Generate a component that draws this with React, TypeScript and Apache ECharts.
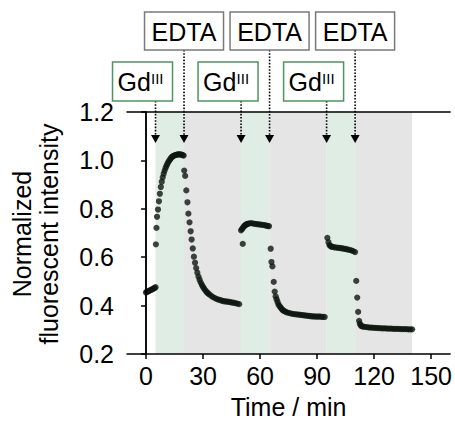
import React, { useEffect, useRef } from "react";
import * as echarts from "echarts";

// Treatment times (min)
const gdTimes = [5, 50, 95];
const edtaTimes = [20, 65, 110];
const endTime = 140;
const xTickValues = [0, 30, 60, 90, 120, 150];

// Baseline before first Gd(III)
const baseT = [0, 0.5, 1, 1.5, 2, 2.5, 3, 3.5, 4, 4.5, 5];
const baseV = [0.454, 0.457, 0.458, 0.461, 0.462, 0.465, 0.466, 0.468, 0.471, 0.472, 0.476];

// 1st Gd(III) addition
const gd1T = [5.2, 5.5, 5.8, 6.3, 6.8, 7.3, 7.8, 8.3, 8.8, 9.3, 9.8, 10.3, 10.8, 11.3, 11.8, 12.3, 12.8, 13.3, 13.8, 14.3, 14.8, 15.3, 15.8, 16.3, 16.8, 17.3, 17.8, 18.3, 18.8, 19.3, 19.8];
const gd1V = [0.653, 0.721, 0.767, 0.797, 0.831, 0.862, 0.89, 0.912, 0.93, 0.945, 0.958, 0.969, 0.978, 0.986, 0.994, 1.0, 1.006, 1.011, 1.015, 1.018, 1.02, 1.022, 1.023, 1.024, 1.025, 1.025, 1.025, 1.024, 1.024, 1.022, 1.02];

// 1st EDTA addition
const edta1T = [20.1, 20.6, 21.2, 21.8, 22.3, 22.9, 23.5, 24.0, 24.6, 25.2, 25.8, 26.4, 27.0, 27.6, 28.2, 28.8, 29.4, 30.0, 30.6, 31.2, 31.8, 32.4, 33, 34, 35, 36, 37, 38, 39, 40, 41, 42, 43, 44, 45, 46, 47, 48, 49];
const edta1V = [0.958, 0.936, 0.876, 0.827, 0.78, 0.744, 0.707, 0.673, 0.636, 0.602, 0.577, 0.555, 0.536, 0.52, 0.507, 0.495, 0.485, 0.477, 0.47, 0.463, 0.457, 0.452, 0.448, 0.442, 0.436, 0.432, 0.428, 0.425, 0.423, 0.42, 0.418, 0.417, 0.416, 0.415, 0.413, 0.412, 0.41, 0.408, 0.406];

// 2nd Gd(III) addition
const gd2T = [50.9, 50.0, 50.5, 51, 51.5, 52, 52.5, 53, 53.5, 54, 55, 56, 57, 58, 59, 60, 61, 62, 63, 64, 64.7];
const gd2V = [0.655, 0.711, 0.716, 0.722, 0.727, 0.731, 0.734, 0.736, 0.738, 0.739, 0.741, 0.74, 0.738, 0.737, 0.736, 0.735, 0.734, 0.733, 0.731, 0.729, 0.728];

// 2nd EDTA addition
const edta2T = [65.6, 66.0, 66.5, 67.2, 67.7, 68.2, 68.7, 69.2, 69.7, 70.2, 70.8, 71.4, 72, 72.6, 73.3, 74, 75, 76, 77, 78, 79, 80, 81, 82, 83, 84, 85, 86, 87, 88, 89, 90, 91, 92, 93, 94];
const edta2V = [0.635, 0.58, 0.562, 0.498, 0.458, 0.438, 0.426, 0.415, 0.405, 0.398, 0.392, 0.386, 0.381, 0.378, 0.375, 0.372, 0.37, 0.368, 0.366, 0.365, 0.364, 0.363, 0.362, 0.361, 0.36, 0.359, 0.358, 0.357, 0.356, 0.355, 0.355, 0.354, 0.355, 0.354, 0.353, 0.353];

// 3rd Gd(III) addition
const gd3T = [95.4, 96, 96.5, 97, 97.5, 98, 99, 100, 101, 102, 103, 104, 105, 106, 107, 108, 109, 110];
const gd3V = [0.68, 0.662, 0.65, 0.646, 0.644, 0.643, 0.641, 0.64, 0.639, 0.638, 0.637, 0.635, 0.634, 0.632, 0.63, 0.628, 0.625, 0.621];

// 3rd EDTA addition
const edta3T = [110.6, 111.1, 111.6, 112.1, 112.5, 113, 113.5, 114, 115, 116, 117, 118, 119, 120, 121, 122, 123, 124, 125, 126, 127, 128, 129, 130, 131, 132, 133, 134, 135, 136, 137, 138, 139, 140];
const edta3V = [0.502, 0.433, 0.374, 0.337, 0.325, 0.318, 0.315, 0.313, 0.312, 0.311, 0.31, 0.309, 0.309, 0.308, 0.308, 0.307, 0.307, 0.306, 0.306, 0.306, 0.305, 0.305, 0.305, 0.304, 0.304, 0.304, 0.304, 0.303, 0.303, 0.303, 0.303, 0.302, 0.302, 0.302];

const segments: [number[], number[]][] = [
  [baseT, baseV],
  [gd1T, gd1V],
  [edta1T, edta1V],
  [gd2T, gd2V],
  [edta2T, edta2V],
  [gd3T, gd3V],
  [edta3T, edta3V],
];

const FONT = '"Liberation Sans", Arial, Helvetica, sans-serif';
const GREEN_BAND = "#e0ede4";
const GRAY_BAND = "#e5e5e5";
const DOT = "#0e1610";

export default function App() {
  const ref = useRef<HTMLDivElement>(null);

  useEffect(() => {
    if (!ref.current) return;
    const chart = echarts.init(ref.current, undefined, { renderer: "svg" });

    const points: number[][] = [];
    segments.forEach(([ts, vs]) => ts.forEach((t, i) => points.push([t, vs[i]])));

    const bands: any[] = [];
    gdTimes.forEach((g, i) => {
      bands.push([{ xAxis: g, itemStyle: { color: GREEN_BAND } }, { xAxis: edtaTimes[i] }]);
      const next = i + 1 < gdTimes.length ? gdTimes[i + 1] : endTime;
      bands.push([{ xAxis: edtaTimes[i], itemStyle: { color: GRAY_BAND } }, { xAxis: next }]);
    });

    const axisLine = { show: true, lineStyle: { color: "#000", width: 1.5 } };

    chart.setOption({
      animation: false,
      grid: { left: 127, right: 3, top: 112, bottom: 67 },
      xAxis: [
        {
          type: "value",
          min: -10,
          max: 160,
          z: 5,
          axisLine,
          splitLine: { show: false },
          axisTick: { show: true, length: 5, lineStyle: { color: "#000", width: 1.5 }, customValues: xTickValues },
          axisLabel: { color: "#000", fontSize: 25, fontFamily: FONT, margin: 9, customValues: xTickValues },
        },
        {
          type: "value",
          position: "top",
          min: -10,
          max: 160,
          z: 5,
          axisLine,
          splitLine: { show: false },
          axisTick: { show: false },
          axisLabel: { show: false },
        },
      ],
      yAxis: [
        {
          type: "value",
          min: 0.2,
          max: 1.2,
          interval: 0.2,
          z: 5,
          axisLine,
          splitLine: { show: false },
          axisTick: { show: true, length: 5, lineStyle: { color: "#000", width: 1.5 } },
          axisLabel: {
            color: "#000",
            fontSize: 25,
            fontFamily: FONT,
            margin: 13,
            formatter: (v: number) => v.toFixed(1),
          },
        },
        {
          type: "value",
          position: "right",
          min: 0.2,
          max: 1.2,
          z: 5,
          axisLine,
          splitLine: { show: false },
          axisTick: { show: false },
          axisLabel: { show: false },
        },
      ],
      series: [
        {
          type: "scatter",
          data: points,
          symbolSize: 6.2,
          itemStyle: { color: DOT },
          markArea: { silent: true, data: bands },
        },
      ],
    });

    const graphics: any[] = [];
    const arrowTop = 135;
    const arrowTip = 143;
    const addArrow = (x: number, fromY: number) => {
      graphics.push({
        type: "line",
        shape: { x1: x, y1: fromY, x2: x, y2: arrowTop },
        style: { stroke: "#000", lineWidth: 1.6, lineDash: [1.6, 1.6] },
        z: 20,
      });
      graphics.push({
        type: "polygon",
        shape: { points: [[x - 4.5, arrowTop], [x + 4.5, arrowTop], [x, arrowTip]] },
        style: { fill: "#000" },
        z: 20,
      });
    };

    edtaTimes.forEach((t) => {
      const x = chart.convertToPixel({ xAxisIndex: 0 }, t) as number;
      graphics.push({
        type: "rect",
        shape: { x: x - 39.5, y: 12, width: 79, height: 38 },
        style: { fill: "#fff", stroke: "#7a7a7a", lineWidth: 1.5 },
        z: 21,
      });
      graphics.push({
        type: "text",
        x: x,
        y: 32,
        style: { text: "EDTA", fontSize: 25, fontFamily: FONT, fill: "#000", align: "center", verticalAlign: "middle" },
        z: 22,
      });
      addArrow(x, 50);
    });

    gdTimes.forEach((t) => {
      const x = chart.convertToPixel({ xAxisIndex: 0 }, t) as number;
      const left = x - 43;
      graphics.push({
        type: "rect",
        shape: { x: left, y: 62, width: 60, height: 39 },
        style: { fill: "#fff", stroke: "#4e9462", lineWidth: 1.5 },
        z: 21,
      });
      graphics.push({
        type: "text",
        x: left + 5,
        y: 82,
        style: { text: "Gd", fontSize: 25, fontFamily: FONT, fill: "#000", align: "left", verticalAlign: "middle" },
        z: 22,
      });
      graphics.push({
        type: "text",
        x: left + 38.5,
        y: 78,
        style: { text: "III", fontSize: 15, fontFamily: FONT, fill: "#000", align: "left", verticalAlign: "middle" },
        z: 22,
      });
      addArrow(x, 101);
    });

    graphics.push({
      type: "text",
      x: 35,
      y: 234,
      rotation: Math.PI / 2,
      style: {
        text: "Normalized\nfluorescent intensity",
        fontSize: 25,
        lineHeight: 27,
        fontFamily: FONT,
        fill: "#000",
        align: "center",
        verticalAlign: "middle",
      },
    });
    graphics.push({
      type: "text",
      x: chart.convertToPixel({ xAxisIndex: 0 }, 75) as number,
      y: 407,
      style: { text: "Time / min", fontSize: 25, fontFamily: FONT, fill: "#000", align: "center", verticalAlign: "middle" },
    });

    chart.setOption({ graphic: { elements: graphics } });

    return () => chart.dispose();
  }, []);

  return <div ref={ref} style={{ position: "fixed", left: 0, top: 0, width: 455, height: 421, background: "#fff" }} />;
}
